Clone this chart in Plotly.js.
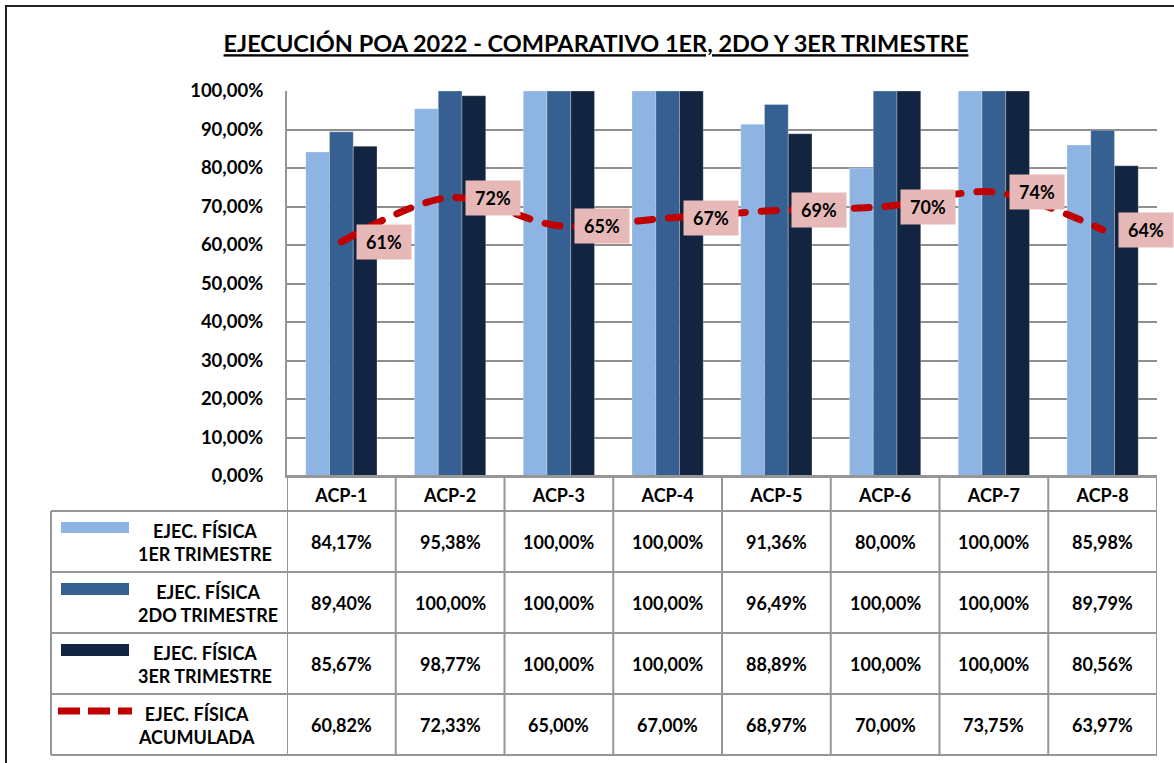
<!DOCTYPE html>
<html><head><meta charset="utf-8">
<script src="https://cdn.plot.ly/plotly-3.0.1.min.js"></script>
<style>
html,body{margin:0;padding:0;background:#fff;}
#chart{width:1174px;height:763px;}
.scatterlayer .js-line{stroke-linecap:round;}
</style></head>
<body><div id="chart"></div>
<script>
// ---- data ----
const categories = ['ACP-1','ACP-2','ACP-3','ACP-4','ACP-5','ACP-6','ACP-7','ACP-8'];
const trim1 = [84.17, 95.38, 100.00, 100.00, 91.36, 80.00, 100.00, 85.98];
const trim2 = [89.40, 100.00, 100.00, 100.00, 96.49, 100.00, 100.00, 89.79];
const trim3 = [85.67, 98.77, 100.00, 100.00, 88.89, 100.00, 100.00, 80.56];
const acumulada = [60.82, 72.33, 65.00, 67.00, 68.97, 70.00, 73.75, 63.97];
const seriesLine1 = ['EJEC. FÍSICA','EJEC. FÍSICA','EJEC. FÍSICA','EJEC. FÍSICA'];
const seriesLine2 = ['1ER TRIMESTRE','2DO TRIMESTRE','3ER TRIMESTRE','ACUMULADA'];
const chartTitle = 'EJECUCIÓN POA 2022 - COMPARATIVO 1ER, 2DO Y 3ER TRIMESTRE';

// ---- styles / geometry ----
const W = 1174, H = 763, L = 287, R = 1157, T = 91, B = 476;
const colors = ['#8DB4E2', '#376092', '#12243F'];
const red = '#C00000';
const gridCol = '#8e8e8e';
const tblCol = '#969696';
const FONT = 'Lato, "Open Sans", sans-serif';
const px = v => (v - L) / (R - L);
const py = v => (B - v) / (B - T);

const rowTops = [511, 572, 633, 694, 755];
const legendTextX = [205, 208, 205, 196];

const fmt = v => v.toFixed(2).replace('.', ',') + '%';

const barSeries = [trim1, trim2, trim3];
const traces = barSeries.map((vals, k) => ({
  type: 'bar', x: categories, y: vals, name: seriesLine2[k],
  marker: {color: colors[k], line: {width: 0.6, color: 'rgba(255,255,255,0.45)'}},
  hoverinfo: 'skip'
}));
traces.push({
  type: 'scatter', mode: 'lines', x: categories, y: acumulada, name: seriesLine2[3],
  line: {color: red, width: 7, dash: '15px,16px', shape: 'spline', smoothing: 0.9},
  hoverinfo: 'skip'
});

const annotations = [];
// data labels on line
acumulada.forEach((v, i) => {
  annotations.push({
    xref: 'x', yref: 'y', x: i, y: v, xanchor: 'left', yanchor: 'middle', xshift: 15,
    text: Math.round(v) + '%', showarrow: false,
    bgcolor: '#E6B9B8', borderpad: 2, width: 50, height: 30,
    font: {family: FONT, size: 18, color: '#000', weight: 700}
  });
});
// table values
const tableSeries = [trim1, trim2, trim3, acumulada];
tableSeries.forEach((vals, r) => {
  const cy = (rowTops[r] + rowTops[r + 1]) / 2;
  vals.forEach((v, i) => {
    annotations.push({
      xref: 'x', yref: 'paper', x: i, y: py(cy), xanchor: 'center', yanchor: 'middle',
      text: '<b>' + fmt(v) + '</b>', showarrow: false,
      font: {family: FONT, size: 18, color: '#000'}
    });
  });
  annotations.push({
    xref: 'paper', yref: 'paper', x: px(legendTextX[r]), y: py(cy + 1), xanchor: 'center', yanchor: 'middle',
    text: '<b>' + seriesLine1[r] + '<br>' + seriesLine2[r] + '</b>', showarrow: false, align: 'center',
    font: {family: FONT, size: 18, color: '#000'}
  });
});

const shapes = [];
// outer border
shapes.push({type: 'rect', xref: 'paper', yref: 'paper', x0: px(6), x1: px(1185), y0: py(775), y1: py(6),
  line: {color: '#222', width: 2}, fillcolor: 'rgba(0,0,0,0)', layer: 'below'});
// table horizontal lines
shapes.push({type: 'line', xref: 'paper', yref: 'paper', x0: 0, x1: 1, y0: 0, y1: 0, line: {color: tblCol, width: 2}});
rowTops.forEach(t => {
  shapes.push({type: 'line', xref: 'paper', yref: 'paper', x0: px(51), x1: 1, y0: py(t), y1: py(t), line: {color: tblCol, width: 2}});
});
// table vertical lines
for (let k = 0; k <= categories.length; k++) {
  shapes.push({type: 'line', xref: 'x', yref: 'paper', x0: k - 0.5, x1: k - 0.5, y0: py(755), y1: 0, line: {color: tblCol, width: 2}});
}
shapes.push({type: 'line', xref: 'paper', yref: 'paper', x0: px(51), x1: px(51), y0: py(755), y1: py(511), line: {color: tblCol, width: 2}});
// legend keys
const keyY = [[522, 533], [583, 595], [644, 656]];
keyY.forEach((yy, k) => {
  shapes.push({type: 'rect', xref: 'paper', yref: 'paper', x0: px(61), x1: px(129), y0: py(yy[1]), y1: py(yy[0]),
    line: {width: 0}, fillcolor: colors[k]});
});
shapes.push({type: 'line', xref: 'paper', yref: 'paper', x0: px(58), x1: px(132), y0: py(711), y1: py(711),
  line: {color: red, width: 7, dash: '22px,8px'}});

const layout = {
  width: W, height: H,
  margin: {l: L, r: W - R, t: T, b: H - B, pad: 0},
  paper_bgcolor: '#fff', plot_bgcolor: '#fff',
  separators: ',.',
  showlegend: false,
  barmode: 'group', bargap: 0.345, bargroupgap: 0,
  title: {
    text: '<b><u>' + chartTitle + '</u></b>',
    xref: 'container', yref: 'container', x: 596 / W, y: 1 - 44 / H, xanchor: 'center', yanchor: 'middle',
    font: {family: FONT, size: 23.5, color: '#000'}
  },
  xaxis: {
    type: 'category', range: [-0.5, categories.length - 0.5], fixedrange: true,
    showgrid: false, showline: true, linecolor: tblCol, linewidth: 2,
    ticks: 'outside', ticklen: 2, tickcolor: 'rgba(0,0,0,0)',
    tickfont: {family: FONT, size: 18, color: '#000', weight: 700}
  },
  yaxis: {
    range: [0, 100], dtick: 10, tick0: 0, fixedrange: true,
    tickformat: '.2f', ticksuffix: '%',
    showgrid: true, gridcolor: gridCol, gridwidth: 2,
    showline: true, linecolor: tblCol, linewidth: 2, zeroline: false,
    ticks: 'outside', ticklen: 18, tickcolor: 'rgba(0,0,0,0)',
    tickfont: {family: FONT, size: 18.5, color: '#000', weight: 700}
  },
  annotations: annotations,
  shapes: shapes
};

Plotly.newPlot('chart', traces, layout, {staticPlot: true, displayModeBar: false});
</script>
</body></html>
